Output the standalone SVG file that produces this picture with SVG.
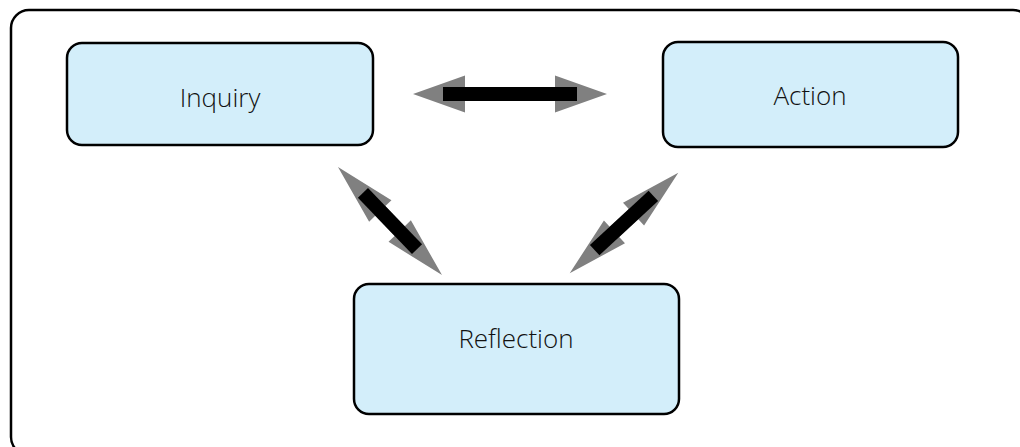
<svg xmlns="http://www.w3.org/2000/svg" width="1020" height="447" viewBox="0 0 1020 447">
<style>
.box{fill:#d3eefa;stroke:#000;stroke-width:2.5}
.lbl{font-family:"Open Sans","Liberation Sans",sans-serif;font-size:26px;font-weight:300;fill:#111;text-anchor:middle}
.head{fill:#808080}
.bar{fill:#000}
</style>
<rect x="11" y="10" width="1020" height="445" rx="18" fill="#fff" stroke="#000" stroke-width="2.5"/>
<g id="connectors">
  <g id="inquiry-action" transform="translate(510,94)">
    <polygon class="head" points="-97,0 -45,-18.5 -45,-7 45,-7 45,-18.5 97,0 45,18.5 45,7 -45,7 -45,18.5"/>
    <rect class="bar" x="-67" y="-7" width="134" height="14"/>
  </g>
  <g id="inquiry-reflection" transform="translate(390,221) rotate(46.1)">
    <polygon class="head" points="-75,0 -14,-15.5 -14,-7 14,-7 14,-15.5 75,0 14,15.5 14,7 -14,7 -14,15.5"/>
    <rect class="bar" x="-39" y="-7" width="78" height="14"/>
  </g>
  <g id="action-reflection" transform="translate(624,223) rotate(-42.8)">
    <polygon class="head" points="-74,0 -13,-15.5 -13,-7 13,-7 13,-15.5 74,0 13,15.5 13,7 -13,7 -13,15.5"/>
    <rect class="bar" x="-40" y="-7" width="80" height="14"/>
  </g>
</g>
<g id="inquiry">
  <rect class="box" x="67" y="43" width="306" height="102" rx="15"/>
  <text class="lbl" x="220" y="107">Inquiry</text>
</g>
<g id="action">
  <rect class="box" x="663" y="42" width="295" height="105" rx="15"/>
  <text class="lbl" x="810" y="105">Action</text>
</g>
<g id="reflection">
  <rect class="box" x="354" y="284" width="325" height="130" rx="15"/>
  <text class="lbl" x="516" y="348">Reflection</text>
</g>
</svg>
